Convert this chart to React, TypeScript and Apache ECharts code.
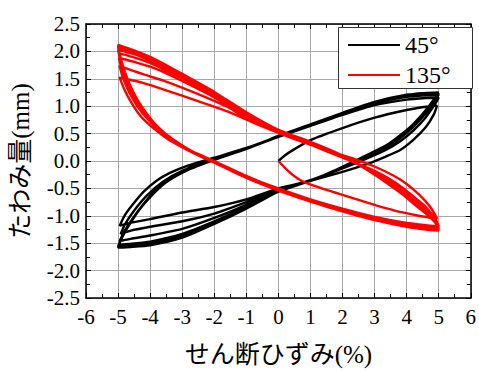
import React, { useEffect, useRef } from "react";
import * as echarts from "echarts";

// ---- Data: shear strain (%) vs deflection (mm) ----
const xTicks = [-6, -5, -4, -3, -2, -1, 0, 1, 2, 3, 4, 5, 6];
const yTicks = [-2.5, -2.0, -1.5, -1.0, -0.5, 0.0, 0.5, 1.0, 1.5, 2.0, 2.5];
const seriesNames = ["45°", "135°"];

// 45° specimen
const deg45Initial = [[0, 0], [0.2, 0.1], [0.4, 0.18], [1, 0.38], [2, 0.6], [3, 0.79], [4, 0.93], [4.6, 0.99], [4.95, 1.01]];
const deg45Down1 = [[4.85, 0.85], [4.6, 0.62], [4.2, 0.38], [3.8, 0.2], [3.35, 0.08], [2.8, -0.05], [2, -0.2], [1, -0.36], [0, -0.5], [-1, -0.7], [-2, -0.84], [-3, -0.94], [-4, -1.06], [-4.7, -1.14], [-4.95, -1.18]];
const deg45Up1 = [[-4.8, -1.0], [-4.55, -0.8], [-4.2, -0.56], [-3.8, -0.36], [-3.4, -0.22], [-2.8, -0.08], [-2, 0.06], [-1, 0.24], [0, 0.44], [1, 0.64], [2, 0.84], [3, 1.02], [4, 1.12], [4.6, 1.15], [5, 1.16]];
const deg45Down2 = [[4.9, 1.05], [4.6, 0.8], [4.2, 0.55], [3.8, 0.36], [3.35, 0.2], [2.5, -0.02], [1.8, -0.18], [1, -0.36], [0, -0.52], [-1, -0.75], [-2, -0.96], [-3, -1.1], [-4, -1.2], [-4.6, -1.27], [-4.92, -1.33]];
const deg45Up2 = [[-4.78, -1.15], [-4.52, -0.92], [-4.12, -0.64], [-3.6, -0.38], [-3.0, -0.18], [-2, 0.04], [-1, 0.23], [0, 0.44], [1, 0.65], [2, 0.86], [3, 1.05], [4, 1.17], [4.6, 1.2], [5, 1.21]];
const deg45Down3 = [[4.9, 1.12], [4.6, 0.87], [4.2, 0.62], [3.8, 0.42], [3.35, 0.24], [2.5, 0.0], [1.8, -0.17], [1, -0.35], [0, -0.53], [-1, -0.8], [-2, -1.04], [-3, -1.24], [-4, -1.36], [-4.6, -1.42], [-4.95, -1.46]];
const deg45Up3 = [[-4.8, -1.28], [-4.56, -1.06], [-4.2, -0.78], [-3.8, -0.52], [-3.4, -0.32], [-2.8, -0.13], [-2, 0.03], [-1, 0.22], [0, 0.44], [1, 0.65], [2, 0.86], [3, 1.06], [4, 1.19], [4.6, 1.22], [5, 1.22]];
const deg45Down4 = [[4.9, 1.14], [4.6, 0.9], [4.2, 0.64], [3.8, 0.44], [3.35, 0.26], [2.45, 0.0], [1.8, -0.17], [1, -0.36], [0, -0.55], [-1, -0.84], [-2, -1.1], [-3, -1.33], [-4, -1.47], [-4.6, -1.51], [-4.97, -1.53]];
const deg45Up4 = [[-4.85, -1.36], [-4.6, -1.12], [-4.3, -0.86], [-4.0, -0.64], [-3.5, -0.36], [-2.8, -0.14], [-2, 0.03], [-1, 0.22], [0, 0.45], [1, 0.66], [2, 0.87], [3, 1.07], [4, 1.2], [4.6, 1.23], [5, 1.23]];
const deg45Down5 = [[4.9, 1.15], [4.6, 0.92], [4.2, 0.66], [3.8, 0.46], [3.35, 0.27], [2.45, 0.01], [1.8, -0.16], [1, -0.36], [0, -0.56], [-1, -0.86], [-2, -1.13], [-3, -1.37], [-4, -1.51], [-4.6, -1.55], [-5, -1.56]];
const deg45Up5 = [[-4.88, -1.4], [-4.65, -1.16], [-4.35, -0.9], [-4.0, -0.66], [-3.5, -0.38], [-2.8, -0.15], [-2, 0.02], [-1, 0.22], [0, 0.45], [1, 0.66], [2, 0.87], [3, 1.08], [4, 1.2], [4.6, 1.24], [5, 1.24]];
const deg45Down6 = [[4.9, 1.16], [4.6, 0.93], [4.2, 0.67], [3.8, 0.47], [3.35, 0.28], [2.45, 0.02], [1.8, -0.16], [1, -0.36], [0, -0.56], [-1, -0.87], [-2, -1.15], [-3, -1.4], [-4, -1.54], [-4.6, -1.57], [-5, -1.58]];
const deg45Up6 = [[-4.9, -1.43], [-4.68, -1.18], [-4.38, -0.92], [-4.02, -0.67], [-3.5, -0.39], [-2.8, -0.16], [-2, 0.02], [-1, 0.22], [0, 0.46], [1, 0.67], [2, 0.88], [3, 1.08], [4, 1.21], [4.6, 1.24], [5, 1.25]];

// 135° specimen
const deg135Initial = [[0, 0], [0.3, -0.18], [0.6, -0.32], [0.9, -0.41], [1.4, -0.51], [1.9, -0.6], [2.5, -0.71], [3.05, -0.81], [3.6, -0.9], [4.3, -0.99], [4.7, -1.03], [4.95, -1.05]];
const deg135Back1 = [[4.75, -0.85], [4.4, -0.62], [4.0, -0.42], [3.6, -0.27], [3.0, -0.1], [2.4, 0.03], [1.5, 0.2], [0.5, 0.4], [-0.5, 0.63], [-1.57, 0.9], [-2.6, 1.11], [-3.5, 1.29], [-4.25, 1.43], [-4.7, 1.49], [-4.95, 1.52]];
const deg135Fwd1 = [[-4.8, 1.3], [-4.6, 1.08], [-4.3, 0.82], [-4.0, 0.65], [-3.5, 0.42], [-3, 0.25], [-2.5, 0.1], [-2, -0.03], [-1, -0.28], [0, -0.5], [1, -0.7], [2, -0.87], [3, -1.02], [4, -1.13], [4.6, -1.17], [5, -1.19]];
const deg135Back2 = [[4.9, -1.06], [4.6, -0.84], [4.28, -0.68], [3.9, -0.5], [3.5, -0.34], [3.0, -0.18], [2, 0.06], [1, 0.3], [0, 0.52], [-1, 0.78], [-1.57, 0.98], [-2.5, 1.22], [-3.5, 1.45], [-4.2, 1.58], [-4.55, 1.65], [-4.95, 1.73]];
const deg135Fwd2 = [[-4.85, 1.52], [-4.65, 1.25], [-4.4, 1.0], [-4.1, 0.78], [-3.7, 0.55], [-3.2, 0.35], [-2.6, 0.15], [-2, 0.0], [-1, -0.27], [0, -0.51], [1, -0.71], [2, -0.89], [3, -1.04], [4, -1.16], [4.6, -1.2], [5, -1.22]];
const deg135Back3 = [[4.9, -1.09], [4.6, -0.88], [4.28, -0.74], [3.9, -0.55], [3.5, -0.38], [3.0, -0.2], [2, 0.08], [1, 0.32], [0, 0.53], [-1, 0.82], [-2, 1.16], [-3, 1.46], [-3.5, 1.6], [-4, 1.72], [-4.5, 1.81], [-4.97, 1.88]];
const deg135Fwd3 = [[-4.88, 1.66], [-4.7, 1.4], [-4.45, 1.12], [-4.15, 0.87], [-3.8, 0.64], [-3.3, 0.4], [-2.7, 0.18], [-2, 0.0], [-1, -0.28], [0, -0.52], [1, -0.72], [2, -0.9], [3, -1.05], [4, -1.17], [4.6, -1.22], [5, -1.24]];
const deg135Back4 = [[4.9, -1.1], [4.6, -0.92], [4.28, -0.77], [3.9, -0.58], [3.5, -0.41], [3.0, -0.22], [2, 0.08], [1, 0.33], [0, 0.54], [-1, 0.84], [-2, 1.19], [-3, 1.51], [-3.5, 1.65], [-4, 1.79], [-4.5, 1.89], [-4.98, 1.97]];
const deg135Fwd4 = [[-4.9, 1.76], [-4.73, 1.5], [-4.5, 1.22], [-4.2, 0.94], [-3.85, 0.68], [-3.4, 0.44], [-2.8, 0.2], [-2, -0.01], [-1, -0.29], [0, -0.52], [1, -0.72], [2, -0.9], [3, -1.06], [4, -1.18], [4.6, -1.23], [5, -1.25]];
const deg135Back5 = [[4.9, -1.11], [4.6, -0.94], [4.28, -0.79], [3.9, -0.6], [3.5, -0.43], [3.0, -0.23], [2, 0.09], [1, 0.34], [0, 0.55], [-1, 0.86], [-2, 1.22], [-3, 1.54], [-3.5, 1.69], [-4, 1.83], [-4.5, 1.95], [-5, 2.03]];
const deg135Fwd5 = [[-4.92, 1.82], [-4.76, 1.56], [-4.55, 1.28], [-4.25, 0.98], [-3.9, 0.71], [-3.45, 0.46], [-2.85, 0.21], [-2, -0.02], [-1, -0.3], [0, -0.53], [1, -0.73], [2, -0.91], [3, -1.07], [4, -1.19], [4.6, -1.24], [5, -1.26]];
const deg135Back6 = [[4.9, -1.12], [4.6, -0.95], [4.28, -0.8], [3.9, -0.61], [3.5, -0.44], [3.0, -0.24], [2, 0.1], [1, 0.35], [0, 0.56], [-1, 0.88], [-2, 1.24], [-3, 1.57], [-3.5, 1.72], [-4, 1.87], [-4.5, 1.99], [-5, 2.08]];
const deg135Fwd6 = [[-4.93, 1.86], [-4.78, 1.6], [-4.57, 1.31], [-4.28, 1.0], [-3.93, 0.72], [-3.5, 0.47], [-2.9, 0.22], [-2, -0.02], [-1, -0.3], [0, -0.53], [1, -0.73], [2, -0.92], [3, -1.08], [4, -1.2], [4.6, -1.25], [5, -1.27]];
const deg135Back7 = [[4.9, -1.13], [4.6, -0.96], [4.28, -0.81], [3.9, -0.62], [3.5, -0.45], [3.0, -0.25], [2, 0.1], [1, 0.35], [0, 0.57], [-1, 0.89], [-2, 1.26], [-3, 1.59], [-3.5, 1.75], [-4, 1.9], [-4.5, 2.02], [-5, 2.12]];
const deg135Fwd7 = [[-4.93, 1.9], [-4.8, 1.65], [-4.6, 1.35], [-4.3, 1.02], [-3.95, 0.74], [-3.5, 0.48], [-2.9, 0.22], [-2, -0.03], [-1, -0.31], [0, -0.54], [1, -0.74], [2, -0.92], [3, -1.08], [4, -1.2], [4.6, -1.25], [5, -1.27]];

const deg45Data = [
  ...deg45Initial, ...deg45Down1, ...deg45Up1, ...deg45Down2, ...deg45Up2, ...deg45Down3, ...deg45Up3,
  ...deg45Down4, ...deg45Up4, ...deg45Down5, ...deg45Up5, ...deg45Down6, ...deg45Up6,
];
const deg135Data = [
  ...deg135Initial, ...deg135Back1, ...deg135Fwd1, ...deg135Back2, ...deg135Fwd2, ...deg135Back3, ...deg135Fwd3,
  ...deg135Back4, ...deg135Fwd4, ...deg135Back5, ...deg135Fwd5, ...deg135Back6, ...deg135Fwd6, ...deg135Back7, ...deg135Fwd7,
];

const SERIF = "Liberation Serif";
const JP = "Liberation Serif, Noto Sans CJK JP";

export default function App() {
  const ref = useRef<HTMLDivElement>(null);

  useEffect(() => {
    if (!ref.current) return;
    const chart = echarts.init(ref.current, null, { renderer: "svg" });

    const xMin = xTicks[0];
    const xMax = xTicks[xTicks.length - 1];
    const yMin = yTicks[0];
    const yMax = yTicks[yTicks.length - 1];

    const frameLine = { show: true, onZero: false, lineStyle: { color: "#000", width: 1.5 } };
    const tick = { show: true, inside: true, length: 5, lineStyle: { color: "#000", width: 1 } };
    const minorTick = { show: true, splitNumber: 2, length: 4, lineStyle: { color: "#000", width: 1 } };

    chart.setOption({
      animation: false,
      backgroundColor: "#fff",
      textStyle: { fontFamily: SERIF },
      grid: { left: 86, right: 3, top: 24, bottom: 63, containLabel: false },
      legend: {
        show: true,
        data: seriesNames.map((n) => ({ name: n, icon: "rect" })),
        orient: "vertical",
        left: 348,
        top: 33,
        itemWidth: 52,
        itemHeight: 2,
        itemGap: 6,
        padding: 0,
        z: 10,
        textStyle: { fontFamily: SERIF, fontSize: 24, color: "#000", lineHeight: 24 },
      },
      graphic: [
        {
          type: "rect",
          left: 338,
          top: 27,
          z: 9,
          shape: { width: 134, height: 61 },
          style: { fill: "#fff", stroke: "#333", lineWidth: 1 },
        },
      ],
      xAxis: [
        {
          type: "value",
          position: "bottom",
          min: xMin,
          max: xMax,
          interval: 1,
          axisLine: frameLine,
          axisTick: tick,
          minorTick,
          splitLine: { show: true, lineStyle: { color: "#a8a8a8", width: 1 } },
          axisLabel: {
            show: true,
            margin: 9,
            color: "#000",
            fontFamily: SERIF,
            fontSize: 21,
            formatter: (v: number) => String(v),
          },
          name: "せん断ひずみ(%)",
          nameLocation: "middle",
          nameGap: 44,
          nameTextStyle: { fontFamily: JP, fontSize: 25, color: "#000" },
        },
        {
          type: "value",
          position: "top",
          min: xMin,
          max: xMax,
          interval: 1,
          axisLine: frameLine,
          axisTick: tick,
          minorTick,
          splitLine: { show: false },
          axisLabel: { show: false },
        },
      ],
      yAxis: [
        {
          type: "value",
          position: "left",
          min: yMin,
          max: yMax,
          interval: 0.5,
          axisLine: frameLine,
          axisTick: tick,
          minorTick,
          splitLine: { show: true, lineStyle: { color: "#a8a8a8", width: 1 } },
          axisLabel: {
            show: true,
            margin: 6,
            color: "#000",
            fontFamily: SERIF,
            fontSize: 21,
            formatter: (v: number) => v.toFixed(1),
          },
          name: "たわみ量(mm)",
          nameLocation: "middle",
          nameGap: 53,
          nameTextStyle: { fontFamily: JP, fontSize: 25, color: "#000" },
        },
        {
          type: "value",
          position: "right",
          min: yMin,
          max: yMax,
          interval: 0.5,
          axisLine: frameLine,
          axisTick: tick,
          minorTick,
          splitLine: { show: false },
          axisLabel: { show: false },
        },
      ],
      series: [
        {
          name: seriesNames[0],
          type: "line",
          xAxisIndex: 0,
          yAxisIndex: 0,
          data: deg45Data,
          symbol: "none",
          smooth: 0.2,
          color: "#000",
          lineStyle: { color: "#000", width: 2.4 },
          z: 2,
        },
        {
          name: seriesNames[1],
          type: "line",
          xAxisIndex: 0,
          yAxisIndex: 0,
          data: deg135Data,
          symbol: "none",
          smooth: 0.2,
          color: "#ff0000",
          lineStyle: { color: "#ff0000", width: 2.4 },
          z: 3,
        },
      ],
    });

    return () => chart.dispose();
  }, []);

  return (
    <div
      ref={ref}
      style={{ position: "fixed", left: 0, top: 0, width: 479, height: 372 }}
    />
  );
}
